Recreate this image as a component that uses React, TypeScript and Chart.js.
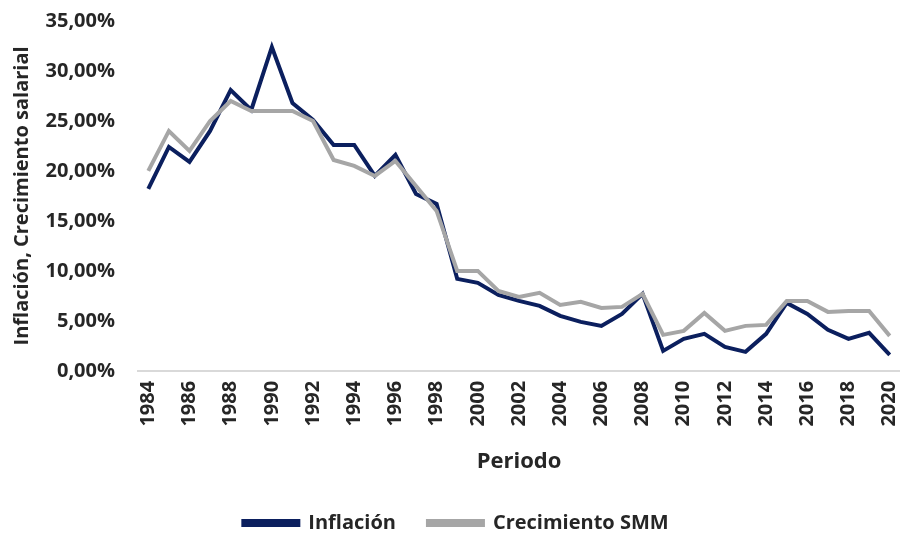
import React, { useEffect, useRef } from "react";
import { Chart, registerables } from "chart.js";

Chart.register(...registerables);

const years: string[] = [
  "1984","1985","1986","1987","1988","1989","1990","1991","1992","1993",
  "1994","1995","1996","1997","1998","1999","2000","2001","2002","2003",
  "2004","2005","2006","2007","2008","2009","2010","2011","2012","2013",
  "2014","2015","2016","2017","2018","2019","2020",
];

const inflacion: number[] = [
  18.2, 22.4, 20.9, 24.0, 28.1, 26.1, 32.4, 26.8, 25.1, 22.6,
  22.6, 19.5, 21.6, 17.7, 16.7, 9.2, 8.8, 7.6, 7.0, 6.5,
  5.5, 4.9, 4.5, 5.7, 7.7, 2.0, 3.2, 3.7, 2.4, 1.9,
  3.7, 6.8, 5.7, 4.1, 3.2, 3.8, 1.6,
];

const crecimientoSMM: number[] = [
  20.0, 24.0, 22.0, 25.0, 27.0, 26.0, 26.0, 26.0, 25.0, 21.1,
  20.5, 19.5, 21.0, 18.5, 16.0, 10.0, 10.0, 8.0, 7.4, 7.8,
  6.6, 6.9, 6.3, 6.4, 7.7, 3.6, 4.0, 5.8, 4.0, 4.5,
  4.6, 7.0, 7.0, 5.9, 6.0, 6.0, 3.5,
];

const yTicks = { min: 0, max: 35, step: 5 };

const FONT = "'Open Sans', sans-serif";
const TEXT = "#262626";

export default function App() {
  const ref = useRef<HTMLCanvasElement | null>(null);

  useEffect(() => {
    if (!ref.current) return;
    const chart = new Chart(ref.current, {
      type: "line",
      data: {
        labels: years,
        datasets: [
          {
            label: "Inflación",
            data: inflacion,
            borderColor: "#0b1f5e",
            backgroundColor: "#0b1f5e",
            borderWidth: 4,
            pointRadius: 0,
            tension: 0,
            order: 1,
          },
          {
            label: "Crecimiento SMM",
            data: crecimientoSMM,
            borderColor: "#a6a6a6",
            backgroundColor: "#a6a6a6",
            borderWidth: 4,
            pointRadius: 0,
            tension: 0,
            order: 0,
          },
        ],
      },
      options: {
        responsive: false,
        animation: false,
        layout: { padding: { left: 10, right: -2, top: 0, bottom: -4 } },
        plugins: {
          tooltip: { enabled: false },
          legend: {
            position: "bottom",
            labels: {
              boxWidth: 55,
              boxHeight: 4,
              padding: 32,
              color: TEXT,
              font: { family: FONT, size: 20, weight: "bold" },
              sort: (a: any, b: any) => a.datasetIndex - b.datasetIndex,
            },
          },
        },
        scales: {
          x: {
            offset: true,
            grid: { display: false, drawTicks: false },
            border: { display: true, color: "#d9d9d9", width: 2 },
            afterFit: (s: any) => {
              s.paddingRight = 0;
            },
            ticks: {
              autoSkip: false,
              maxRotation: 90,
              minRotation: 90,
              padding: 10,
              color: TEXT,
              font: { family: FONT, size: 20, weight: "bold" },
              callback: function (_v: any, i: number) {
                return i % 2 === 0 ? years[i] : "";
              },
            },
            title: {
              display: true,
              text: "Periodo",
              color: TEXT,
              font: { family: FONT, size: 22, weight: "bold" },
              padding: { top: 12, bottom: 6 },
            },
          },
          y: {
            min: yTicks.min,
            max: yTicks.max,
            grid: { display: false, drawTicks: false },
            border: { display: false },
            afterFit: (s: any) => {
              s.width = 128;
              s.paddingTop = 21;
              s.paddingBottom = 0;
            },
            ticks: {
              stepSize: yTicks.step,
              padding: 23,
              color: TEXT,
              font: { family: FONT, size: 20, weight: "bold" },
              callback: (v: any) => Number(v).toFixed(2).replace(".", ",") + "%",
            },
            title: {
              display: true,
              text: "Inflación, Crecimiento salarial",
              color: TEXT,
              font: { family: FONT, size: 20, weight: "bold" },
              padding: { top: 0, bottom: 7 },
            },
          },
        },
      },
    });
    return () => chart.destroy();
  }, []);

  return (
    <div style={{ position: "fixed", left: 0, top: 0, width: 900, height: 539, background: "#fff" }}>
      <canvas ref={ref} width={900} height={539} style={{ display: "block" }} />
    </div>
  );
}
